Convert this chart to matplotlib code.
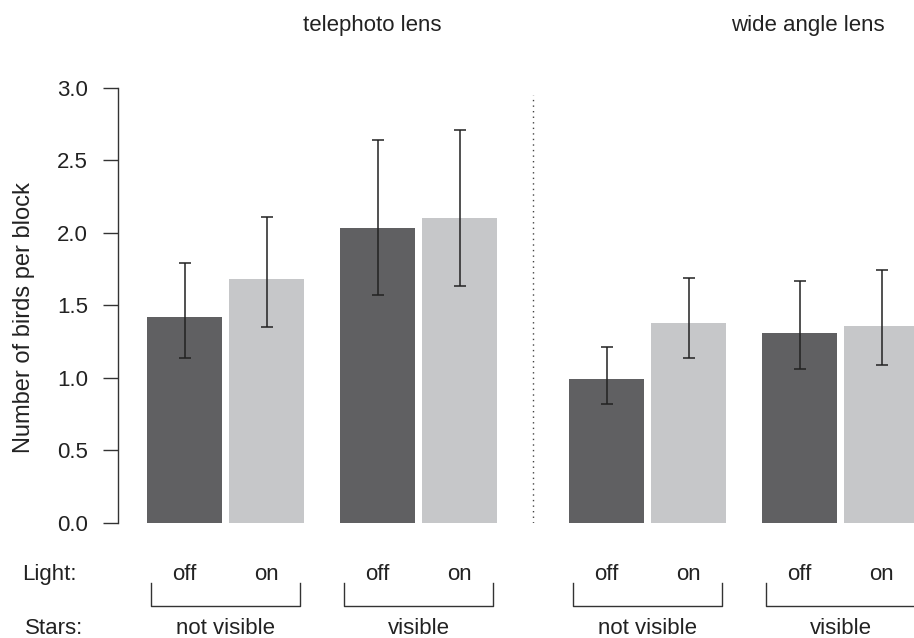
import matplotlib
matplotlib.use('Agg')
import matplotlib.pyplot as plt
import matplotlib.transforms as mtransforms
from matplotlib.lines import Line2D

plt.rcParams['font.family'] = ['Liberation Sans', 'DejaVu Sans']

# data
lenses = ['telephoto lens', 'wide angle lens']
stars = ['not visible', 'visible']
light = ['off', 'on']

tele_mean = [1.42, 1.68, 2.03, 2.10]
tele_lo = [1.14, 1.35, 1.57, 1.63]
tele_hi = [1.79, 2.11, 2.64, 2.71]

wide_mean = [0.99, 1.38, 1.31, 1.36]
wide_lo = [0.82, 1.14, 1.06, 1.09]
wide_hi = [1.21, 1.69, 1.67, 1.74]

yticks = [0.0, 0.5, 1.0, 1.5, 2.0, 2.5, 3.0]

# layout (pixels, figure is 914 x 638)
W, H = 914, 638
x0 = 147        # left edge of first bar
bw = 75         # bar width
step_light = 82
step_stars = 193
step_lens = 422
y_zero, y_top = 523, 87.5

dark = '#606062'
pale = '#c6c7c9'
ink = '#222222'
fs = 16

fig = plt.figure(figsize=(W / 100, H / 100), dpi=100)
ax = fig.add_axes([0, (H - y_zero) / H, 1, (y_zero - y_top) / H])
ax.set_xlim(0, W)
ax.set_ylim(0, 3)

means = [tele_mean, wide_mean]
los = [tele_lo, wide_lo]
his = [tele_hi, wide_hi]

bt = mtransforms.blended_transform_factory(ax.transData, fig.transFigure)

def fy(py):
    return (H - py) / H

for li in range(2):
    for si in range(2):
        for gi in range(2):
            k = si * 2 + gi
            left = x0 + li * step_lens + si * step_stars + gi * step_light
            m = means[li][k]
            ax.bar(left, m, width=bw, align='edge',
                   color=dark if gi == 0 else pale, linewidth=0)
            ax.errorbar(left + bw / 2, m,
                        yerr=[[m - los[li][k]], [his[li][k] - m]],
                        fmt='none', ecolor=ink, elinewidth=1.1,
                        capsize=4.5, capthick=1.1)
            fig.text((left + bw / 2) / W, fy(580), light[gi], ha='center',
                     va='baseline', fontsize=fs, color=ink)
        # bracket under each stars group
        b_left = x0 + li * step_lens + si * step_stars + 4
        b_right = x0 + li * step_lens + si * step_stars + step_light + bw - 4
        ax.add_line(Line2D([b_left, b_left, b_right, b_right],
                           [fy(583), fy(606), fy(606), fy(583)],
                           transform=bt, color='#333333', lw=1.0,
                           clip_on=False))
        fig.text((b_left + b_right) / 2 / W, fy(634), stars[si], ha='center',
                 va='baseline', fontsize=fs, color=ink)

# divider between the two lens panels
mid = (x0 + step_stars + step_light + bw + x0 + step_lens) / 2
ax.plot([mid, mid], [0, 2.95], color='#444444', lw=1.0,
        linestyle=(0, (1, 3)))

# y axis in R style
for s in ['top', 'right', 'bottom']:
    ax.spines[s].set_visible(False)
ax.spines['left'].set_position(('data', 117.7))
ax.spines['left'].set_bounds(0, 3)
ax.spines['left'].set_color('#333333')
ax.spines['left'].set_linewidth(1.0)
ax.set_yticks(yticks)
ax.set_yticklabels(['%.1f' % v for v in yticks])
ax.tick_params(axis='y', direction='out', length=10.8, width=1.0,
               pad=10.5, labelsize=fs, colors='#333333', labelcolor=ink)
ax.set_xticks([])

fig.text(24 / W, fy(318), 'Number of birds per block', rotation=90,
         ha='center', va='center', fontsize=17, color=ink)
fig.text(372 / W, fy(31), lenses[0], ha='center', va='baseline',
         fontsize=fs, color=ink)
fig.text(808 / W, fy(31), lenses[1], ha='center', va='baseline',
         fontsize=fs, color=ink)
fig.text(22 / W, fy(580), 'Light:', ha='left', va='baseline',
         fontsize=fs, color=ink)
fig.text(25 / W, fy(634), 'Stars:', ha='left', va='baseline',
         fontsize=fs, color=ink)

fig.savefig('out.png', dpi=100)
